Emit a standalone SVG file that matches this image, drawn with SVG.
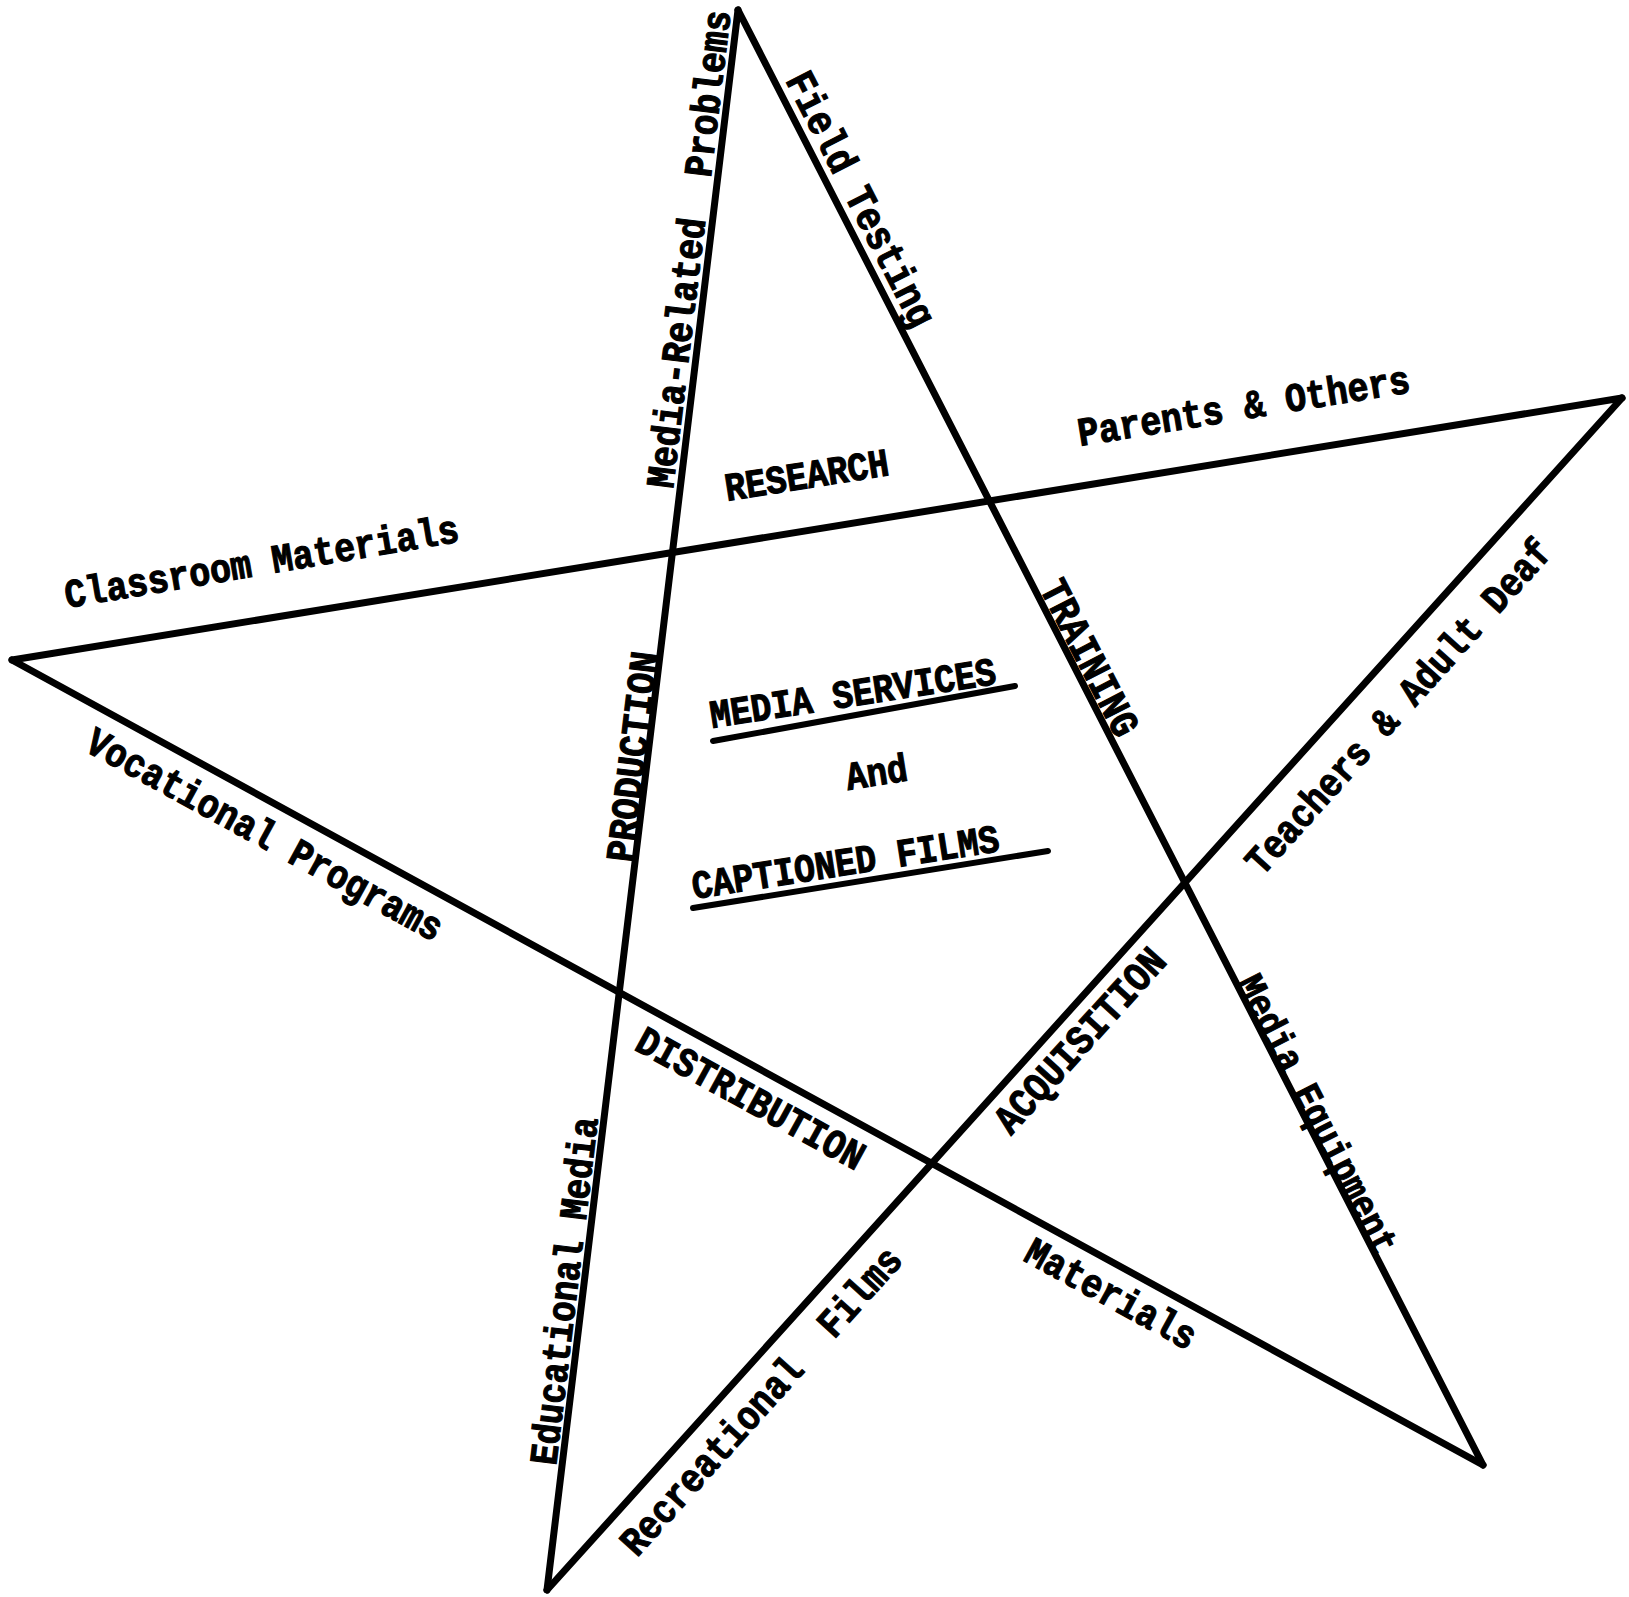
<svg xmlns="http://www.w3.org/2000/svg" width="1629" height="1597" viewBox="0 0 1629 1597">
<style>
.ln{stroke:#000;stroke-width:7;stroke-linecap:round;fill:none}
.ul{stroke:#000;stroke-width:6;stroke-linecap:round;fill:none}
.t{font-family:"Liberation Mono","DejaVu Sans Mono",monospace;font-weight:bold;fill:#000;stroke:#000;stroke-width:1}
</style>
<rect width="1629" height="1597" fill="#fff"/>
<g id="connectors">
<line class="ln" x1="738" y1="10" x2="547" y2="1590"/>
<line class="ln" x1="738" y1="10" x2="1483" y2="1465"/>
<line class="ln" x1="12" y1="660" x2="1622" y2="398"/>
<line class="ln" x1="12" y1="660" x2="1483" y2="1465"/>
<line class="ln" x1="547" y1="1590" x2="1622" y2="398"/>
</g>
<g id="center">
<text class="t" font-size="34.4" transform="translate(712,728) rotate(-8.8) scale(1,1.15)">MEDIA SERVICES</text>
<path class="ul" d="M713,741 L1015,686"/>
<text class="t" font-size="34.5" transform="translate(848,790) rotate(-9) scale(1,1.15)">And</text>
<text class="t" font-size="34.5" transform="translate(694,899) rotate(-8.9) scale(1,1.15)">CAPTIONED FILMS</text>
<path class="ul" d="M693,908 L1048,851"/>
</g>
<g id="research"><text class="t" font-size="34.5" transform="translate(727,501) rotate(-9) scale(1,1.15)">RESEARCH</text></g>
<g id="training"><text class="t" font-size="35.5" transform="translate(1039,588) rotate(62.9) scale(1,1.15)">TRAINING</text></g>
<g id="acquisition"><text class="t" font-size="35.5" transform="translate(1011,1136) rotate(-47.8) scale(1,1.15)">ACQUISITION</text></g>
<g id="distribution"><text class="t" font-size="35.3" transform="translate(633,1049) rotate(28.7) scale(1,1.15)">DISTRIBUTION</text></g>
<g id="production"><text class="t" font-size="35.2" transform="translate(633,863) rotate(-83.1) scale(1,1.15)">PRODUCTION</text></g>
<g id="media-related"><text class="t" font-size="34.8" transform="translate(673,489) rotate(-83.1) scale(1,1.15)">Media-Related <tspan dx="21">Problems</tspan></text></g>
<g id="field-testing"><text class="t" font-size="36" transform="translate(785,80) rotate(62.9) scale(1,1.15)">Field Testing</text></g>
<g id="parents"><text class="t" font-size="35" transform="translate(1080,446) rotate(-9.24) scale(1,1.15)">Parents &amp; Others</text></g>
<g id="classroom"><text class="t" font-size="35" transform="translate(67,608) rotate(-9.6) scale(1,1.15)">Classroom Materials</text></g>
<g id="teachers"><text class="t" font-size="34.6" transform="translate(1262,877) rotate(-47.95) scale(1,1.15)">Teachers &amp; Adult Deaf</text></g>
<g id="media-equipment"><text class="t" font-size="34.2" transform="translate(1236,983) rotate(62.9) scale(1,1.15)">Media Equipment</text></g>
<g id="vocational"><text class="t" font-size="35.1" transform="translate(83,750) rotate(28.7) scale(1,1.15)">Vocational Programs</text></g>
<g id="materials"><text class="t" font-size="35" transform="translate(1022,1260) rotate(28.7) scale(1,1.15)">Materials</text></g>
<g id="educational"><text class="t" font-size="34.3" transform="translate(556,1466) rotate(-83.1) scale(1,1.15)">Educational Media</text></g>
<g id="recreational"><text class="t" font-size="35" transform="translate(637,1558) rotate(-47.95) scale(1,1.15)">Recreational <tspan dx="21">Films</tspan></text></g>
</svg>
